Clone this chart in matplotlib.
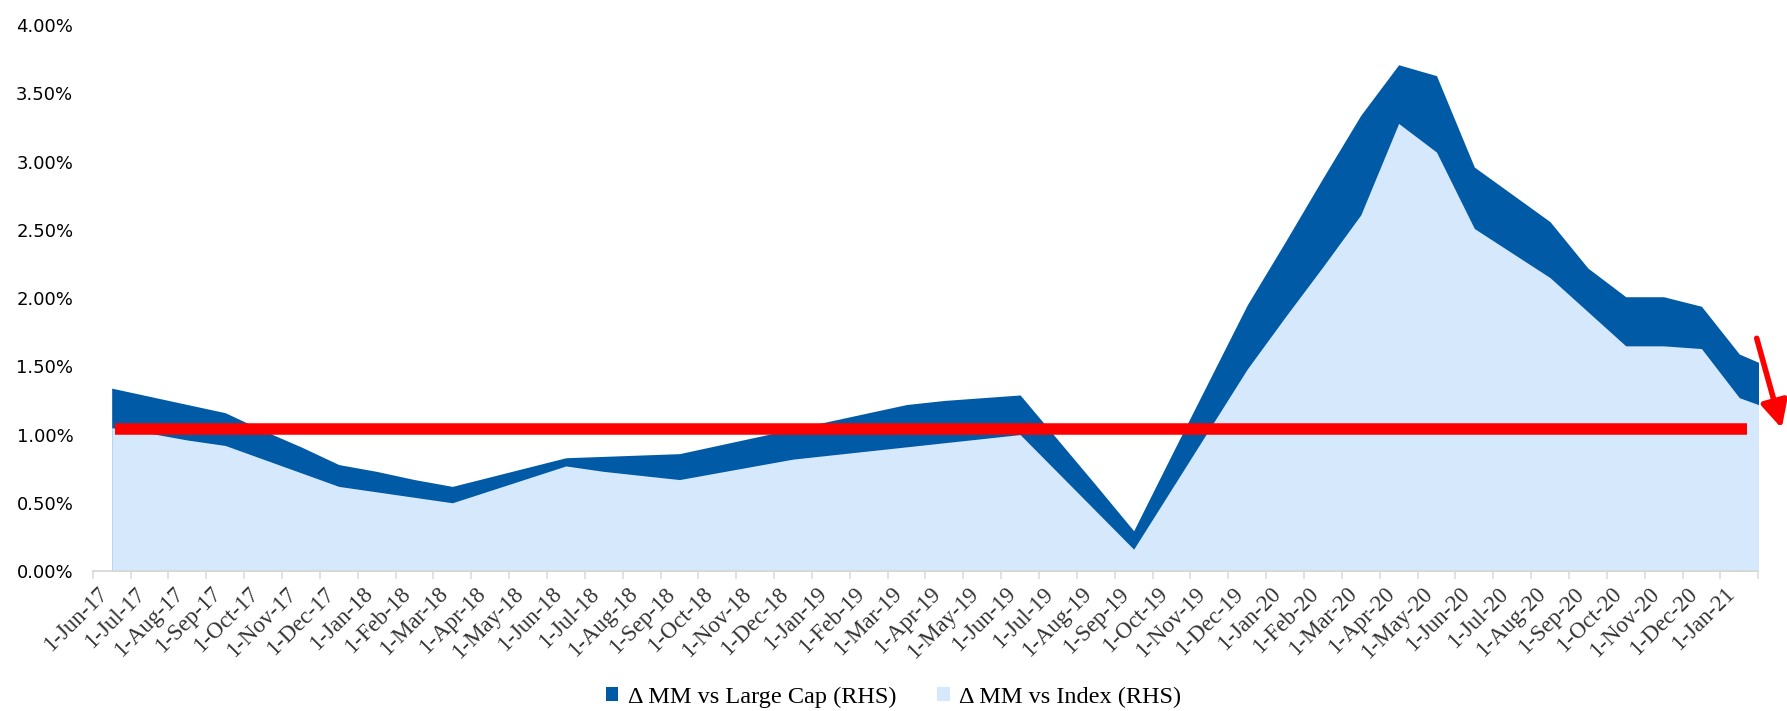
import numpy as np
import pandas as pd
import matplotlib
matplotlib.use("Agg")
import matplotlib.pyplot as plt

plt.rcParams['font.family'] = ['Liberation Serif', 'DejaVu Serif']

# monthly spread data (in %), Jun-17 .. Feb-21
months = pd.date_range('2017-06-01', periods=45, freq='MS')
month_labels = [f"{d.day}-{d.strftime('%b-%y')}" for d in months]

large_cap = [1.34, 1.28, 1.22, 1.16, 1.03, 0.91, 0.78, 0.73, 0.67, 0.62,
             0.69, 0.76, 0.83, 0.84, 0.85, 0.86, 0.92, 0.98, 1.04, 1.10,
             1.16, 1.22, 1.25, 1.27, 1.29, 0.96, 0.63, 0.295, 0.85, 1.40,
             1.95, 2.41, 2.88, 3.34, 3.71, 3.63, 2.96, 2.76, 2.56, 2.22,
             2.01, 2.01, 1.94, 1.59, 1.47]

index = [1.05, 1.01, 0.96, 0.92, 0.82, 0.72, 0.62, 0.58, 0.54, 0.50,
         0.59, 0.68, 0.77, 0.73, 0.70, 0.67, 0.72, 0.77, 0.82, 0.85,
         0.88, 0.91, 0.94, 0.97, 1.00, 0.72, 0.44, 0.16, 0.60, 1.04,
         1.48, 1.86, 2.23, 2.61, 3.28, 3.07, 2.51, 2.33, 2.15, 1.90,
         1.65, 1.65, 1.63, 1.27, 1.17]

series_names = ['\u0394 MM vs Large Cap (RHS)', '\u0394 MM vs Index (RHS)']
avg_level = 1.04
n_shown = 44  # last month only closes off the area

dark_blue = '#005AA6'
light_blue = '#D5E8FC'

x = np.arange(len(months))

fig = plt.figure(figsize=(17.87, 7.11), dpi=100)
ax = fig.add_axes([0.0519, 0.1969, 0.9320, 0.7677])

h1 = ax.fill_between(x, 0, large_cap, color=dark_blue, linewidth=0)
h2 = ax.fill_between(x, 0, index, color=light_blue, linewidth=0)

# average line across the period
ax.hlines(avg_level, 0.1, n_shown - 0.8, color='red', linewidth=8.3,
          capstyle='butt')

ax.set_xlim(-0.5, n_shown - 0.5)
ax.set_ylim(0, 4)

ax.set_yticks(np.arange(0, 4.01, 0.5))
ax.set_yticklabels([f'{v:.2f}%' for v in np.arange(0, 4.01, 0.5)],
                   family='DejaVu Sans', fontsize=13)
ax.tick_params(axis='y', length=0, pad=14)

ax.set_xticks(x[:n_shown])
ax.set_xticklabels(month_labels[:n_shown], rotation=45, ha='right',
                   va='top', fontsize=16.5, color='#333333')
ax.set_xticks(np.arange(-0.5, n_shown, 1), minor=True)
ax.tick_params(axis='x', which='major', length=0, pad=9)
ax.tick_params(axis='x', which='minor', length=6, width=1.1,
               color='#D9D9D9', direction='out')

for side in ['top', 'right', 'left']:
    ax.spines[side].set_visible(False)
ax.spines['bottom'].set_color('#D9D9D9')
ax.spines['bottom'].set_linewidth(1.3)

# red arrow pointing down at the right edge
ax.annotate('', xy=(1781.7, 711 - 428.3), xytext=(1756.7, 711 - 338.3),
            xycoords='figure pixels', textcoords='figure pixels',
            arrowprops=dict(arrowstyle='-|>', color='red', lw=4,
                            mutation_scale=40, shrinkA=0, shrinkB=0))

fig.legend([h1, h2], series_names, loc='center',
           bbox_to_anchor=(0.5, 1 - 697 / 711), ncol=2, frameon=False,
           fontsize=17.5, handlelength=0.5, handleheight=0.5,
           handletextpad=0.4, columnspacing=1.7)

fig.savefig('out.png', dpi=100)
